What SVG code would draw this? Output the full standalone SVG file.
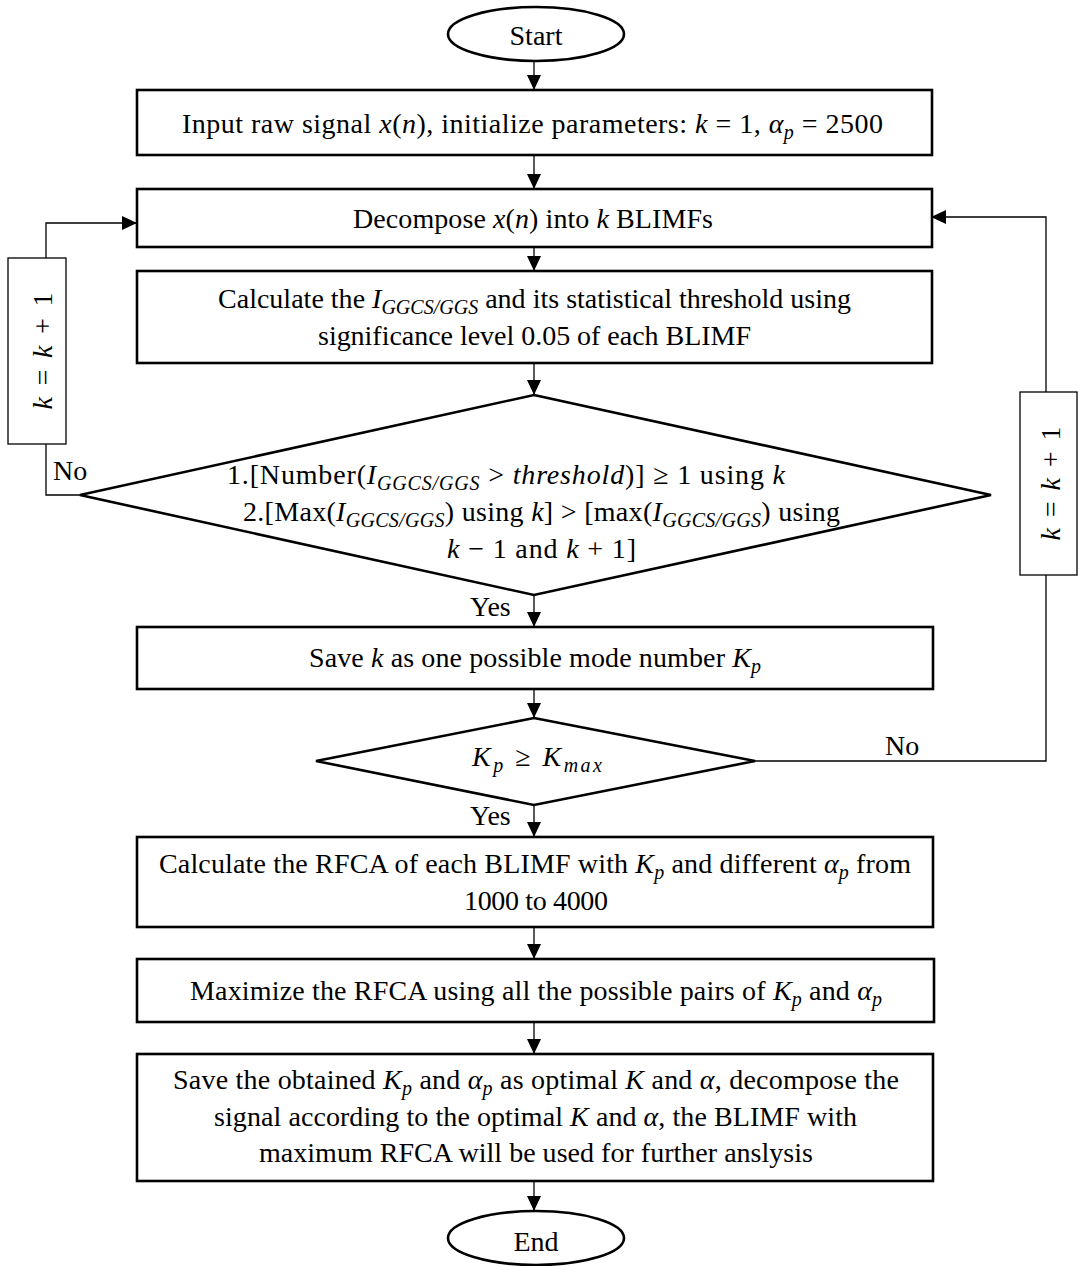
<svg xmlns="http://www.w3.org/2000/svg" width="1078" height="1266" viewBox="0 0 1078 1266">
<style>
text{font-family:"Liberation Serif","Times New Roman",serif;font-size:28px;fill:#000}
.i{font-style:italic}
.sub{font-style:italic;font-size:20px}
.box{fill:#fff;stroke:#000;stroke-width:2.6}
.thin{fill:#fff;stroke:#000;stroke-width:1.3}
.conn{fill:none;stroke:#000;stroke-width:1.3}
</style>
<defs>
<marker id="ah" markerUnits="userSpaceOnUse" viewBox="0 0 15 14" refX="15" refY="7" markerWidth="15" markerHeight="14" orient="auto">
<path d="M0,0 L15,7 L0,14 z" fill="#000"/>
</marker>
</defs>
<rect width="1078" height="1266" fill="#fff"/>

<g id="connectors">
<line class="conn" x1="534" y1="61" x2="534" y2="90" marker-end="url(#ah)"/>
<line class="conn" x1="534" y1="155" x2="534" y2="189" marker-end="url(#ah)"/>
<line class="conn" x1="534" y1="247" x2="534" y2="271" marker-end="url(#ah)"/>
<line class="conn" x1="534" y1="363" x2="534" y2="395" marker-end="url(#ah)"/>
<line class="conn" x1="534" y1="595" x2="534" y2="627" marker-end="url(#ah)"/>
<line class="conn" x1="534" y1="689" x2="534" y2="718" marker-end="url(#ah)"/>
<line class="conn" x1="534" y1="805" x2="534" y2="837" marker-end="url(#ah)"/>
<line class="conn" x1="534" y1="927" x2="534" y2="959" marker-end="url(#ah)"/>
<line class="conn" x1="534" y1="1022" x2="534" y2="1054" marker-end="url(#ah)"/>
<line class="conn" x1="534" y1="1181" x2="534" y2="1211" marker-end="url(#ah)"/>
<polyline class="conn" points="80,495 46,495 46,444"/>
<polyline class="conn" points="46,258 46,223 137,223" marker-end="url(#ah)"/>
<polyline class="conn" points="755,761 1046,761 1046,575"/>
<polyline class="conn" points="1046,392 1046,217 931,217" marker-end="url(#ah)"/>
<text x="53" y="480">No</text>
<text x="885" y="755">No</text>
<text x="470" y="616">Yes</text>
<text x="470" y="825">Yes</text>
</g>

<g id="start">
<ellipse class="box" cx="536" cy="34" rx="88" ry="27"/>
<text x="536" y="45" text-anchor="middle">Start</text>
</g>

<g id="input">
<rect class="box" x="137" y="90" width="795" height="65"/>
<text x="182" y="133" textLength="701" lengthAdjust="spacing">Input raw signal <tspan class="i">x</tspan>(<tspan class="i">n</tspan>), initialize parameters: <tspan class="i">k</tspan> = 1, <tspan class="i">α</tspan><tspan class="sub" dy="6">p</tspan><tspan dy="-6"> = 2500</tspan></text>
</g>

<g id="decompose">
<rect class="box" x="137" y="189" width="795" height="58"/>
<text x="353" y="228" textLength="360" lengthAdjust="spacing">Decompose <tspan class="i">x</tspan>(<tspan class="i">n</tspan>) into <tspan class="i">k</tspan> BLIMFs</text>
</g>

<g id="calc-index">
<rect class="box" x="137" y="271" width="795" height="92"/>
<text x="218" y="308" textLength="633" lengthAdjust="spacing">Calculate the <tspan class="i">I</tspan><tspan class="sub" dy="6">GGCS/GGS</tspan><tspan dy="-6"> and its statistical threshold using</tspan></text>
<text x="318" y="345" textLength="433" lengthAdjust="spacing">significance level 0.05 of each BLIMF</text>
</g>

<g id="decision-k">
<polygon class="box" points="534,395 991,495 534,595 80,495"/>
<text x="227" y="484" textLength="558" lengthAdjust="spacing">1.[Number(<tspan class="i">I</tspan><tspan class="sub" dy="6">GGCS/GGS</tspan><tspan dy="-6"> &gt; </tspan><tspan class="i">threshold</tspan>)] ≥ 1 using <tspan class="i">k</tspan></text>
<text x="243" y="521" textLength="597" lengthAdjust="spacing">2.[Max(<tspan class="i">I</tspan><tspan class="sub" dy="6">GGCS/GGS</tspan><tspan dy="-6">) using </tspan><tspan class="i">k</tspan>] &gt; [max(<tspan class="i">I</tspan><tspan class="sub" dy="6">GGCS/GGS</tspan><tspan dy="-6">) using</tspan></text>
<text x="447" y="558" textLength="189" lengthAdjust="spacing"><tspan class="i">k</tspan> − 1 and <tspan class="i">k</tspan> + 1]</text>
</g>

<g id="loop-left">
<rect class="thin" x="8" y="258" width="58" height="186"/>
<text transform="translate(52,351) rotate(-90)" x="-58.5" textLength="117" lengthAdjust="spacing"><tspan class="i">k</tspan> = <tspan class="i">k</tspan> + 1</text>
</g>

<g id="loop-right">
<rect class="thin" x="1020" y="392" width="57" height="183"/>
<text transform="translate(1060,483.5) rotate(-90)" x="-57" textLength="114" lengthAdjust="spacing"><tspan class="i">k</tspan> = <tspan class="i">k</tspan> + 1</text>
</g>

<g id="save-kp">
<rect class="box" x="137" y="627" width="796" height="62"/>
<text x="309" y="667" textLength="452" lengthAdjust="spacing">Save <tspan class="i">k</tspan> as one possible mode number <tspan class="i">K</tspan><tspan class="sub" dy="6">p</tspan></text>
</g>

<g id="decision-kmax">
<polygon class="box" points="534,718 755,761 534,805 316,761"/>
<text x="472" y="766" textLength="130" lengthAdjust="spacing"><tspan class="i">K</tspan><tspan class="sub" dy="6">p</tspan><tspan dy="-6"> ≥ </tspan><tspan class="i">K</tspan><tspan class="sub" dy="6">max</tspan></text>
</g>

<g id="calc-rfca">
<rect class="box" x="137" y="837" width="796" height="90"/>
<text x="159" y="873" textLength="752" lengthAdjust="spacing">Calculate the RFCA of each BLIMF with <tspan class="i">K</tspan><tspan class="sub" dy="6">p</tspan><tspan dy="-6"> and different </tspan><tspan class="i">α</tspan><tspan class="sub" dy="6">p</tspan><tspan dy="-6"> from</tspan></text>
<text x="464" y="910" textLength="144" lengthAdjust="spacing">1000 to 4000</text>
</g>

<g id="maximize">
<rect class="box" x="137" y="959" width="797" height="63"/>
<text x="190" y="1000" textLength="692" lengthAdjust="spacing">Maximize the RFCA using all the possible pairs of <tspan class="i">K</tspan><tspan class="sub" dy="6">p</tspan><tspan dy="-6"> and </tspan><tspan class="i">α</tspan><tspan class="sub" dy="6">p</tspan></text>
</g>

<g id="save-optimal">
<rect class="box" x="137" y="1054" width="796" height="127"/>
<text x="173" y="1089" textLength="726" lengthAdjust="spacing">Save the obtained <tspan class="i">K</tspan><tspan class="sub" dy="6">p</tspan><tspan dy="-6"> and </tspan><tspan class="i">α</tspan><tspan class="sub" dy="6">p</tspan><tspan dy="-6"> as optimal </tspan><tspan class="i">K</tspan> and <tspan class="i">α</tspan>, decompose the</text>
<text x="214" y="1126" textLength="643" lengthAdjust="spacing">signal according to the optimal <tspan class="i">K</tspan> and <tspan class="i">α</tspan>, the BLIMF with</text>
<text x="259" y="1162" textLength="554" lengthAdjust="spacing">maximum RFCA will be used for further anslysis</text>
</g>

<g id="end">
<ellipse class="box" cx="536" cy="1238" rx="88" ry="27"/>
<text x="536" y="1251" text-anchor="middle">End</text>
</g>
</svg>
